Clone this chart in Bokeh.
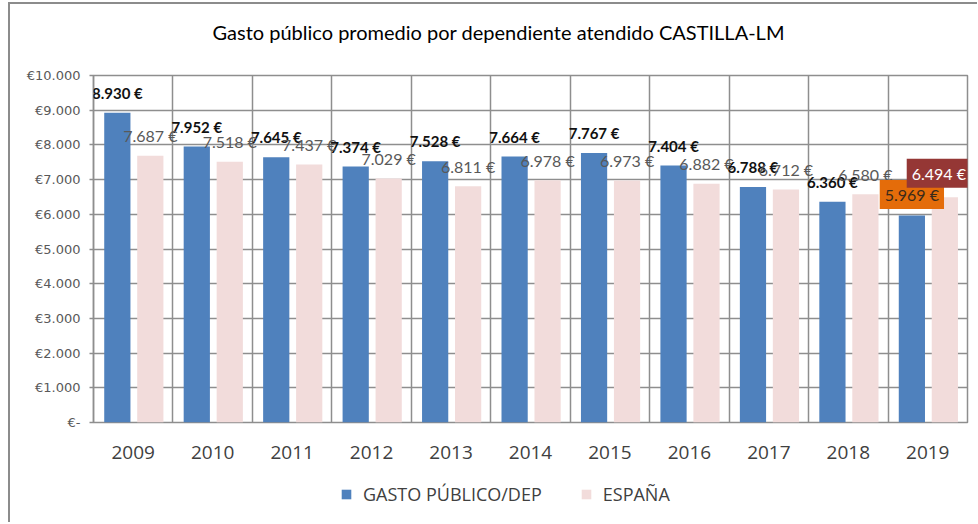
from bokeh.plotting import figure
from bokeh.models import (ColumnDataSource, Range1d, FixedTicker, LabelSet, Label,
                          Legend, LegendItem)
from bokeh.layouts import column
from bokeh.transform import dodge
from bokeh.core.properties import value
from bokeh.embed import file_html
from bokeh.resources import INLINE

# ---- data ----
years = ["2009", "2010", "2011", "2012", "2013", "2014", "2015", "2016", "2017", "2018", "2019"]
gasto = [8930, 7952, 7645, 7374, 7528, 7664, 7767, 7404, 6788, 6360, 5969]
espana = [7687, 7518, 7437, 7029, 6811, 6978, 6973, 6882, 6712, 6580, 6494]
series_names = ["GASTO PÚBLICO/DEP", "ESPAÑA"]
y_ticks = [0, 1000, 2000, 3000, 4000, 5000, 6000, 7000, 8000, 9000, 10000]
y_tick_labels = ["€-", "€1.000", "€2.000", "€3.000", "€4.000", "€5.000",
                 "€6.000", "€7.000", "€8.000", "€9.000", "€10.000"]
title_text = "Gasto público promedio por dependiente atendido CASTILLA-LM"


def fmt(v):
    return f"{v:,}".replace(",", ".") + " €"


n = len(years)
idx = [i + 0.5 for i in range(n)]
OFF_A = -0.2
OFF_B = 0.215
BW = 0.33
GRID = "#8e8e8e"
BLUE = "#4F81BD"
PINK = "#F2DCDB"
W = 967
FW = 874  # frame width shared (aligned) by all figures in the column

src = ColumnDataSource(dict(x=idx, year=years, gasto=gasto, espana=espana))
lsrc = ColumnDataSource(dict(x=idx[:-1], gasto=gasto[:-1], espana=espana[:-1],
                             gl=[fmt(v) for v in gasto[:-1]],
                             el=[fmt(v) for v in espana[:-1]]))

# ---- title strip (its frame is aligned with the chart frame) ----
tf = figure(width=W, height=61, x_range=Range1d(0, FW), y_range=Range1d(0, 61),
            x_axis_type=None, y_axis_type=None, output_backend="svg",
            toolbar_location=None, min_border=0)
tf.outline_line_color = None
tf.add_layout(Label(x=119, y=34, text=title_text, text_align="left",
                    text_baseline="middle", text_font="Lato", text_font_size="20px",
                    text_color="#000000"))

# ---- main chart ----
p = figure(frame_width=FW, frame_height=347, x_range=Range1d(0, n), y_range=Range1d(0, 10000),
           output_backend="svg", toolbar_location=None,
           min_border_left=83, min_border_right=10, min_border_top=10, min_border_bottom=50)
p.background_fill_color = "white"
p.outline_line_color = GRID
p.outline_line_width = 1.5

r1 = p.vbar(x=dodge("x", OFF_A), top="gasto", width=BW, source=src,
            fill_color=BLUE, line_color=None)
r2 = p.vbar(x=dodge("x", OFF_B), top="espana", width=BW, source=src,
            fill_color=PINK, line_color=None)

# grids
p.xgrid.ticker = FixedTicker(ticks=list(range(n + 1)))
p.ygrid.ticker = FixedTicker(ticks=y_ticks)
for g in (p.xgrid, p.ygrid):
    g.grid_line_color = GRID
    g.grid_line_width = 1.5

# axes
p.xaxis.ticker = FixedTicker(ticks=idx)
p.xaxis.major_label_overrides = {x: y for x, y in zip(idx, years)}
p.xaxis.axis_line_color = None
p.xaxis.major_tick_line_color = None
p.xaxis.minor_tick_line_color = None
p.xaxis.major_label_text_font = "Open Sans"
p.xaxis.major_label_text_font_size = "19px"
p.xaxis.major_label_text_color = "#404040"
p.xaxis.major_label_standoff = 17

p.yaxis.ticker = FixedTicker(ticks=y_ticks)
p.yaxis.major_label_overrides = {t: s for t, s in zip(y_ticks, y_tick_labels)}
p.yaxis.axis_line_color = GRID
p.yaxis.axis_line_width = 1.5
p.yaxis.major_tick_line_color = GRID
p.yaxis.major_tick_line_width = 1.5
p.yaxis.major_tick_out = 4
p.yaxis.major_tick_in = 0
p.yaxis.minor_tick_line_color = None
p.yaxis.major_label_text_font = "DejaVu Sans"
p.yaxis.major_label_text_font_size = "13px"
p.yaxis.major_label_text_color = "#595959"
p.yaxis.major_label_standoff = 9

# data labels
p.add_layout(LabelSet(x=dodge("x", OFF_A), y="gasto", text="gl", source=lsrc,
                      text_align="center", text_baseline="middle", y_offset=20,
                      text_font=value("Lato"), text_font_size="15px",
                      text_font_style="bold", text_color="#111111"))
p.add_layout(LabelSet(x=dodge("x", OFF_B), y="espana", text="el", source=lsrc,
                      text_align="center", text_baseline="middle", y_offset=20,
                      text_font=value("Lato"), text_font_size="16px",
                      text_color="#595959"))
p.add_layout(Label(x=idx[-1] + OFF_A, y=gasto[-1], text=fmt(gasto[-1]),
                   text_align="center", text_baseline="middle", y_offset=21,
                   text_font="Lato", text_font_size="16px", text_color="#3a2a1a",
                   background_fill_color="#E46C0A", padding=5))
p.add_layout(Label(x=idx[-1] + OFF_B, y=espana[-1], text=fmt(espana[-1]),
                   text_align="center", text_baseline="middle", y_offset=24,
                   x_offset=-6,
                   text_font="Lato", text_font_size="16px", text_color="white",
                   background_fill_color="#953735", padding=5))

# ---- legend strip (separate small figure, renderers hidden, only the legend shows) ----
lf = figure(width=W, height=50, x_range=Range1d(0, 1), y_range=Range1d(0, 1),
            x_axis_type=None, y_axis_type=None, output_backend="svg",
            toolbar_location=None, min_border=0)
lf.outline_line_color = None
l1 = lf.vbar(x="x", top="gasto", width=BW, source=src, fill_color=BLUE,
             line_color=None, visible=False)
l2 = lf.vbar(x="x", top="espana", width=BW, source=src, fill_color=PINK,
             line_color=None, visible=False)
legend = Legend(items=[LegendItem(label=series_names[0], renderers=[l1]),
                       LegendItem(label=series_names[1], renderers=[l2])],
                orientation="horizontal", location=(247, 16),
                glyph_width=12, glyph_height=12, label_standoff=11, spacing=38,
                padding=0, margin=0, border_line_color=None, background_fill_alpha=0,
                inactive_fill_alpha=0,
                label_text_font="Open Sans", label_text_font_size="18px",
                label_text_color="#404040")
lf.add_layout(legend, "center")

layout = column(tf, p, lf, spacing=0)
layout.styles = {"margin-left": "8px", "margin-top": "2px",
                 "border-left": "2px solid #8c8c8c", "border-top": "2px solid #8c8c8c"}

open("out.html", "w").write(file_html(layout, INLINE))
